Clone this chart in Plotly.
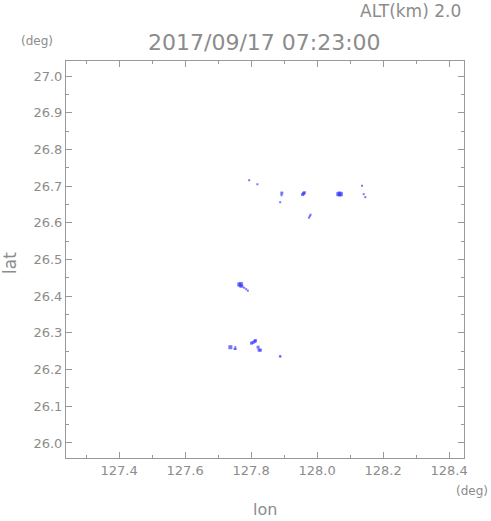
import plotly.graph_objects as go

# Echo positions (deg)
lon = [127.794, 127.819,
       127.892, 127.893, 127.888,
       127.956, 127.959, 127.961,
       127.975, 127.978, 127.980,
       128.064, 128.068, 128.072, 128.068,
       128.136, 128.141, 128.146,
       127.764, 127.769, 127.767, 127.772, 127.779, 127.785, 127.790,
       127.737, 127.750, 127.753, 127.752,
       127.801, 127.806, 127.811, 127.813,
       127.821, 127.824, 127.828,
       127.887, 127.889]
lat = [26.716, 26.705,
       26.675, 26.681, 26.656,
       26.677, 26.680, 26.682,
       26.614, 26.618, 26.622,
       26.678, 26.680, 26.678, 26.676,
       26.701, 26.678, 26.670,
       26.432, 26.433, 26.428, 26.427, 26.423, 26.419, 26.415,
       26.261, 26.256, 26.256, 26.261,
       26.272, 26.274, 26.277, 26.279,
       26.261, 26.253, 26.253,
       26.236, 26.236]
size = [2, 2,
        2, 3, 2,
        3, 3, 3,
        2, 2, 2,
        4, 4, 4, 3,
        2, 2, 2,
        4, 4, 3, 3, 2, 2, 2,
        4, 2, 2, 2,
        3, 3, 3, 3,
        3, 3, 3,
        2, 2]

x_ticks = [127.4, 127.6, 127.8, 128.0, 128.2, 128.4]
y_ticks = [26.0, 26.1, 26.2, 26.3, 26.4, 26.5, 26.6, 26.7, 26.8, 26.9, 27.0]

gray = "#999999"
txt = "#8c8c8c"
font = "DejaVu Sans"

fig = go.Figure(go.Scatter(
    x=lon, y=lat, mode="markers",
    marker=dict(symbol="square", size=size, color="#3c3cff", line=dict(width=0)),
    hoverinfo="skip"))

axis_common = dict(showgrid=False, zeroline=False, showline=True, linecolor=gray, linewidth=1,
                   mirror="ticks", ticks="inside", tickcolor=gray, ticklen=6,
                   tickfont=dict(family=font, size=13, color=txt))

fig.update_xaxes(range=[127.239, 128.445], tickvals=x_ticks,
                 ticktext=[f"{v:.1f}" for v in x_ticks],
                 minor=dict(dtick=0.1, tick0=127.4, ticks="inside", ticklen=3, tickcolor=gray),
                 **axis_common)
fig.update_yaxes(range=[25.959, 27.041], tickvals=y_ticks,
                 ticktext=[f"{v:.1f}" for v in y_ticks],
                 minor=dict(dtick=0.05, tick0=26.0, ticks="inside", ticklen=3, tickcolor=gray),
                 **axis_common)

ann = [
    dict(text="2017/09/17 07:23:00", x=264, y=43, size=22),
    dict(text="ALT(km) 2.0", x=463, y=11, size=17, xanchor="right"),
    dict(text="(deg)", x=37, y=41, size=12),
    dict(text="(deg)", x=490, y=491, size=12, xanchor="right"),
    dict(text="lon", x=265, y=509, size=16),
]
annotations = []
for a in ann:
    annotations.append(dict(text=a["text"], x=a["x"] / 491, y=1 - a["y"] / 521,
                            xref="paper", yref="paper", showarrow=False,
                            xanchor=a.get("xanchor", "center"), yanchor="middle",
                            font=dict(family=font, size=a["size"], color=txt)))
annotations.append(dict(text="lat", x=10 / 491, y=1 - 263 / 521, xref="paper", yref="paper",
                        showarrow=False, textangle=-90, xanchor="center", yanchor="middle",
                        font=dict(family=font, size=17, color=txt)))

# convert pixel positions to paper coords relative to plot area
pl, pr, pt, pb = 66, 27, 61, 63
W, H = 491, 521
for a in annotations:
    px = a["x"] * W
    py = (1 - a["y"]) * H
    a["x"] = (px - pl) / (W - pl - pr)
    a["y"] = 1 - (py - pt) / (H - pt - pb)

fig.update_layout(width=W, height=H, margin=dict(l=pl, r=pr, t=pt, b=pb),
                  plot_bgcolor="white", paper_bgcolor="white", showlegend=False,
                  annotations=annotations)

fig.write_html("out.html", config={"displayModeBar": False},
               post_script="document.body.style.margin='0';document.body.style.overflow='hidden';")
